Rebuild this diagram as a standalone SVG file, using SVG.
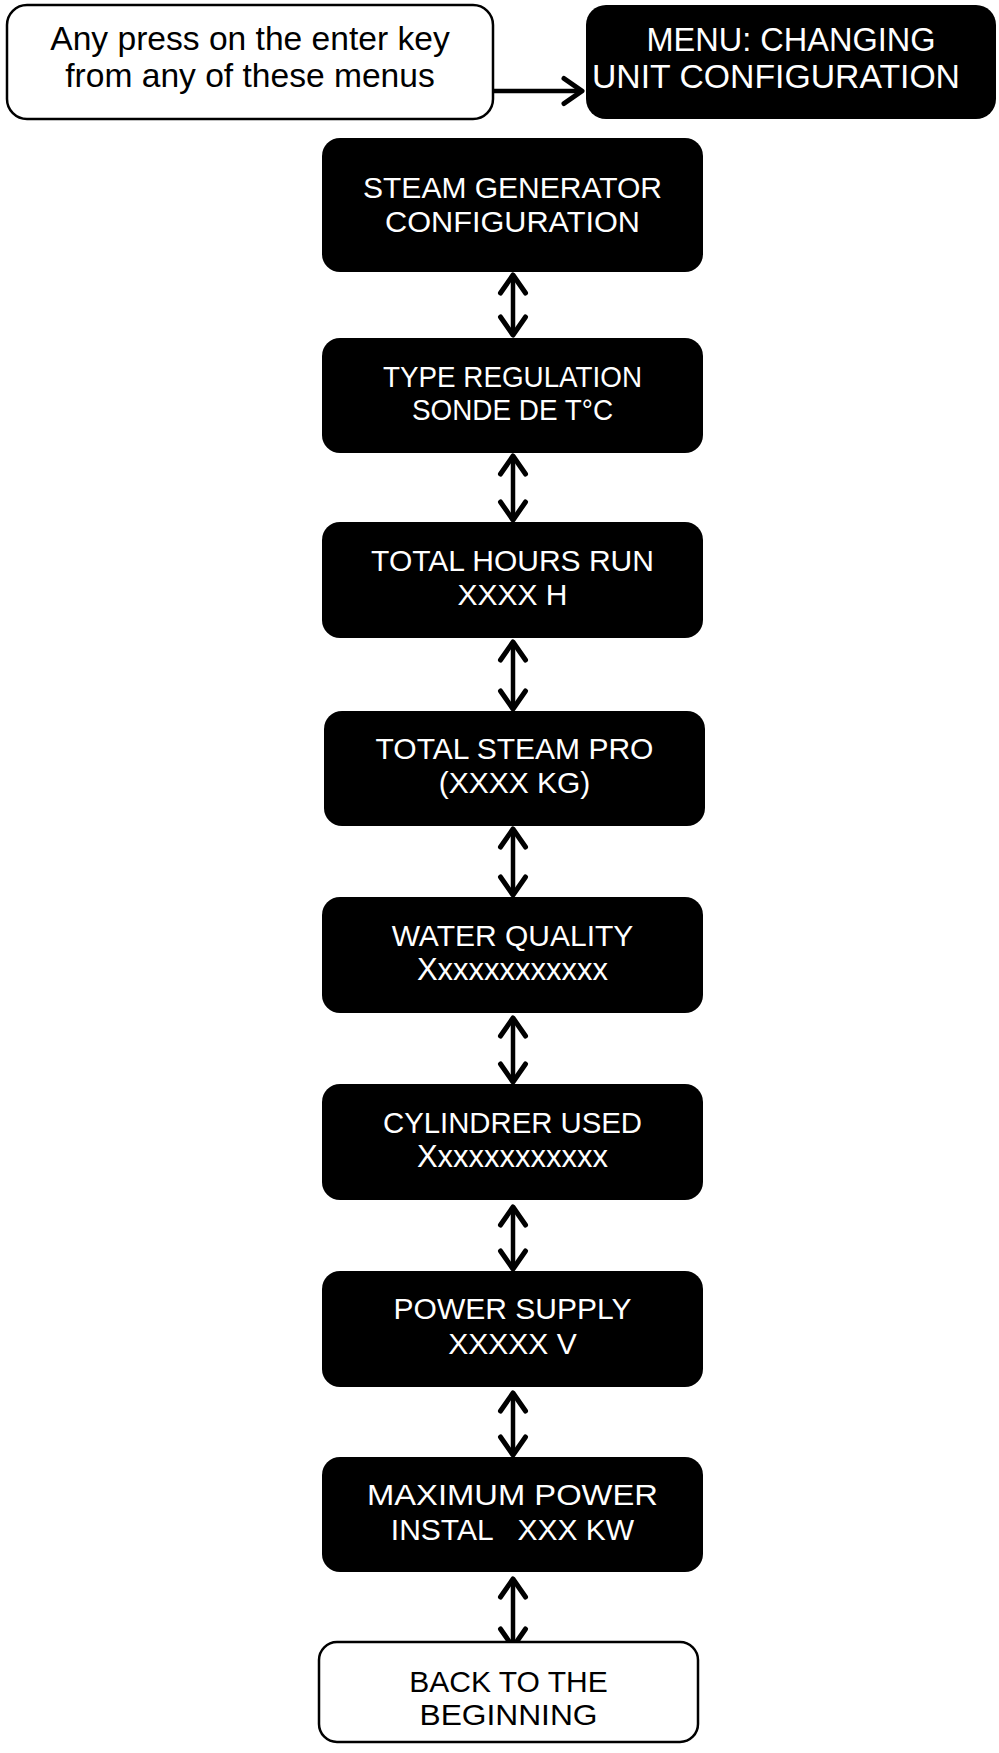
<svg xmlns="http://www.w3.org/2000/svg" width="999" height="1753" viewBox="0 0 999 1753">
<style>
.blk{fill:#000;stroke:none}
.wht{fill:#fff;stroke:#000;stroke-width:2.5}
.t{font-family:"Liberation Sans",Arial,sans-serif;font-size:30px;text-anchor:middle}
.tw{fill:#fff}
.tb{fill:#000}
.con{stroke:#000;stroke-width:4.5;fill:none}
</style>
<defs>
<marker id="ah" viewBox="-24 -17 28 34" refX="0" refY="0" markerWidth="28" markerHeight="34" markerUnits="userSpaceOnUse" orient="auto-start-reverse">
<path d="M-18,-12.5 L0,0 L-18,12.5" fill="none" stroke="#000" stroke-width="5" stroke-linecap="round" stroke-linejoin="round"/>
</marker>
</defs>
<rect width="999" height="1753" fill="#fff"/>

<g id="connectors">
<line class="con" x1="493" y1="91" x2="582" y2="91" marker-end="url(#ah)"/>
<line class="con" x1="513" y1="275" x2="513" y2="335" marker-start="url(#ah)" marker-end="url(#ah)"/>
<line class="con" x1="513" y1="456" x2="513" y2="520" marker-start="url(#ah)" marker-end="url(#ah)"/>
<line class="con" x1="513" y1="642" x2="513" y2="709" marker-start="url(#ah)" marker-end="url(#ah)"/>
<line class="con" x1="513" y1="829" x2="513" y2="895" marker-start="url(#ah)" marker-end="url(#ah)"/>
<line class="con" x1="513" y1="1018" x2="513" y2="1082" marker-start="url(#ah)" marker-end="url(#ah)"/>
<line class="con" x1="513" y1="1207" x2="513" y2="1269" marker-start="url(#ah)" marker-end="url(#ah)"/>
<line class="con" x1="513" y1="1393" x2="513" y2="1455" marker-start="url(#ah)" marker-end="url(#ah)"/>
<line class="con" x1="513" y1="1579" x2="513" y2="1647" marker-start="url(#ah)" marker-end="url(#ah)"/>
</g>

<g id="n-enter">
<rect class="wht" x="7" y="5" width="486" height="114" rx="20"/>
<text class="t tb" x="250" y="50" style="font-size:33.6px">Any press on the enter key</text>
<text class="t tb" x="250" y="87" style="font-size:33.6px">from any of these menus</text>
</g>

<g id="n-menu">
<rect class="blk" x="586" y="5" width="410" height="114" rx="20"/>
<text class="t tw" x="791" y="51" style="font-size:32.5px">MENU: CHANGING</text>
<text class="t tw" x="776" y="88" style="font-size:32.5px" textLength="368" lengthAdjust="spacingAndGlyphs">UNIT CONFIGURATION</text>
</g>

<g id="n-steam">
<rect class="blk" x="322" y="138" width="381" height="134" rx="18"/>
<text class="t tw" x="512.5" y="198">STEAM GENERATOR</text>
<text class="t tw" x="512.5" y="232" textLength="255" lengthAdjust="spacingAndGlyphs">CONFIGURATION</text>
</g>

<g id="n-type">
<rect class="blk" x="322" y="338" width="381" height="115" rx="18"/>
<text class="t tw" x="512.5" y="387" textLength="259" lengthAdjust="spacingAndGlyphs">TYPE REGULATION</text>
<text class="t tw" x="512.5" y="420" textLength="201" lengthAdjust="spacingAndGlyphs">SONDE DE T°C</text>
</g>

<g id="n-hours">
<rect class="blk" x="322" y="522" width="381" height="116" rx="18"/>
<text class="t tw" x="512.5" y="571">TOTAL HOURS RUN</text>
<text class="t tw" x="512.5" y="605">XXXX H</text>
</g>

<g id="n-steampro">
<rect class="blk" x="324" y="711" width="381" height="115" rx="18"/>
<text class="t tw" x="514.5" y="759">TOTAL STEAM PRO</text>
<text class="t tw" x="514.5" y="793">(XXXX KG)</text>
</g>

<g id="n-water">
<rect class="blk" x="322" y="897" width="381" height="116" rx="18"/>
<text class="t tw" x="512.5" y="946">WATER QUALITY</text>
<text class="t tw" x="512.5" y="980" style="font-size:31px">Xxxxxxxxxxxx</text>
</g>

<g id="n-cyl">
<rect class="blk" x="322" y="1084" width="381" height="116" rx="18"/>
<text class="t tw" x="512.5" y="1133" textLength="259" lengthAdjust="spacingAndGlyphs">CYLINDRER USED</text>
<text class="t tw" x="512.5" y="1167" style="font-size:31px">Xxxxxxxxxxxx</text>
</g>

<g id="n-power">
<rect class="blk" x="322" y="1271" width="381" height="116" rx="18"/>
<text class="t tw" x="512.5" y="1319">POWER SUPPLY</text>
<text class="t tw" x="512.5" y="1354">XXXXX V</text>
</g>

<g id="n-max">
<rect class="blk" x="322" y="1457" width="381" height="115" rx="18"/>
<text class="t tw" x="512.5" y="1505" textLength="291" lengthAdjust="spacingAndGlyphs">MAXIMUM POWER</text>
<text class="t tw" x="512.5" y="1540" xml:space="preserve">INSTAL   XXX KW</text>
</g>

<g id="n-back">
<rect class="wht" x="319" y="1642" width="379" height="100" rx="18"/>
<text class="t tb" x="508.5" y="1692">BACK TO THE</text>
<text class="t tb" x="508.5" y="1725" textLength="178" lengthAdjust="spacingAndGlyphs">BEGINNING</text>
</g>
</svg>
